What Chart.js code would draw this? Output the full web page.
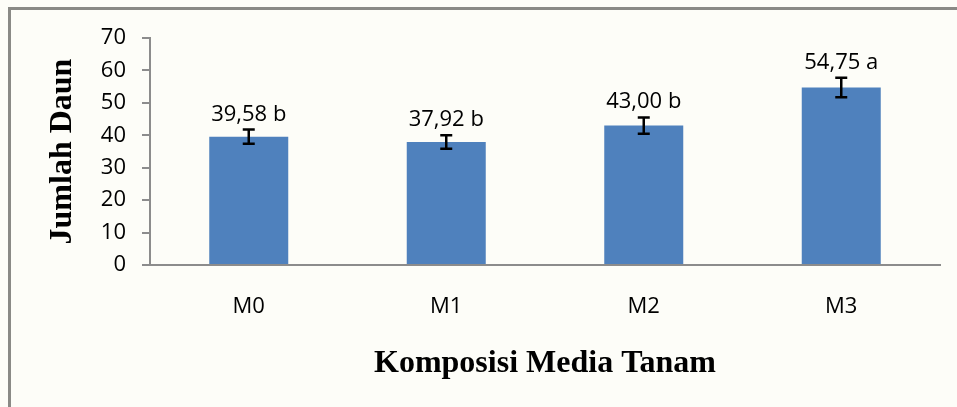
<!DOCTYPE html>
<html>
<head>
<meta charset="utf-8">
<script src="https://cdn.jsdelivr.net/npm/chart.js@4.4.1/dist/chart.umd.min.js"></script>
<style>
  html, body { margin: 0; padding: 0; background: #fdfdf8; }
  canvas { display: block; }
</style>
</head>
<body>
<canvas id="chart" width="957" height="407"></canvas>
<script>
// data
const categories = ['M0', 'M1', 'M2', 'M3'];
const means = [39.58, 37.92, 43.00, 54.75];
const errors = [2.2, 2.1, 2.5, 3.0];
const letters = ['b', 'b', 'b', 'a'];
const yTicks = [0, 10, 20, 30, 40, 50, 60, 70];

const fmt = (v) => v.toFixed(2).replace('.', ',');

// background + the frame seen at the top/left edge
const frame = {
    id: 'frame',
    beforeDraw(chart) {
        const ctx = chart.ctx;
        ctx.save();
        ctx.fillStyle = '#fdfdf8';
        ctx.fillRect(0, 0, chart.width, chart.height);
        ctx.strokeStyle = '#8a8a86';
        ctx.lineWidth = 3;
        ctx.beginPath();
        ctx.moveTo(9.5, chart.height);
        ctx.lineTo(9.5, 8.5);
        ctx.lineTo(chart.width, 8.5);
        ctx.stroke();
        ctx.restore();
    }
};

// error bars and the value labels above them
const errorBars = {
    id: 'errorBars',
    afterDatasetsDraw(chart) {
        const ctx = chart.ctx;
        const x = chart.scales.x;
        const y = chart.scales.y;
        ctx.save();
        ctx.strokeStyle = '#000';
        ctx.lineWidth = 2.5;
        ctx.fillStyle = '#000';
        ctx.font = '22px "Open Sans"';
        ctx.textAlign = 'center';
        ctx.textBaseline = 'alphabetic';
        means.forEach((m, i) => {
            const cx = x.getPixelForValue(i);
            const top = y.getPixelForValue(m + errors[i]);
            const bot = y.getPixelForValue(m - errors[i]);
            ctx.beginPath();
            ctx.moveTo(cx, top);
            ctx.lineTo(cx, bot);
            ctx.moveTo(cx - 6, top);
            ctx.lineTo(cx + 6, top);
            ctx.moveTo(cx - 6, bot);
            ctx.lineTo(cx + 6, bot);
            ctx.stroke();
            ctx.fillText(fmt(m) + ' ' + letters[i], cx, top - 9);
        });
        ctx.restore();
    }
};

new Chart(document.getElementById('chart'), {
    type: 'bar',
    data: {
        labels: categories,
        datasets: [{
            data: means,
            backgroundColor: '#4f81bd',
            borderWidth: 0,
            barPercentage: 0.4,
            categoryPercentage: 1.0
        }]
    },
    options: {
        responsive: false,
        animation: false,
        layout: { padding: { left: 0, right: 17, top: 38, bottom: 0 } },
        plugins: {
            legend: { display: false },
            tooltip: { enabled: false }
        },
        scales: {
            x: {
                grid: { display: false, drawTicks: false },
                border: { color: '#8c8c8c', width: 2 },
                ticks: {
                    color: '#000',
                    padding: 29,
                    font: { family: 'Open Sans', size: 22 }
                },
                title: {
                    display: true,
                    text: 'Komposisi Media Tanam',
                    color: '#000',
                    font: { family: 'Liberation Serif', size: 32, weight: 'bold' },
                    padding: { top: 0, bottom: 24 }
                },
                afterFit(scale) { scale.height = 142; }
            },
            y: {
                min: 0,
                max: 70,
                afterBuildTicks(scale) { scale.ticks = yTicks.map(v => ({ value: v })); },
                grid: { drawOnChartArea: false, tickLength: 8, color: '#8c8c8c', lineWidth: 2 },
                border: { color: '#8c8c8c', width: 2 },
                ticks: {
                    color: '#000',
                    padding: 16,
                    font: { family: 'Open Sans', size: 22 }
                },
                title: {
                    display: true,
                    text: 'Jumlah Daun',
                    color: '#000',
                    font: { family: 'Liberation Serif', size: 32, weight: 'bold' },
                    padding: { top: 44, bottom: 0 }
                },
                afterFit(scale) { scale.width = 150; }
            }
        }
    },
    plugins: [frame, errorBars]
});
</script>
</body>
</html>
